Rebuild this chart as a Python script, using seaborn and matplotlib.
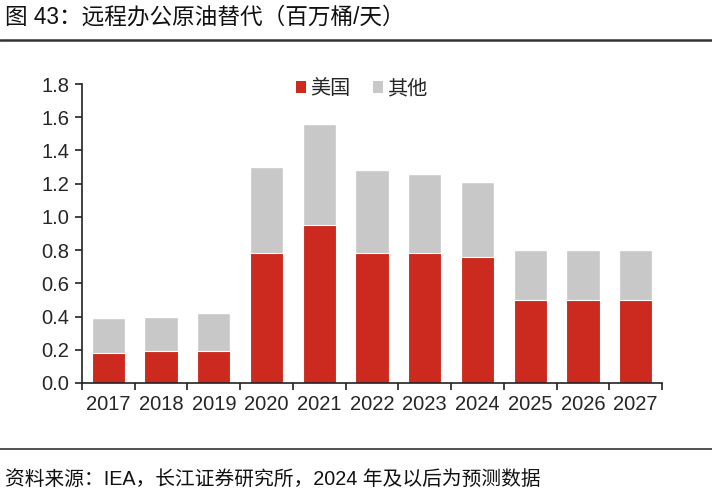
import matplotlib
matplotlib.use("Agg")
import matplotlib.pyplot as plt
from matplotlib.patches import Patch
from matplotlib.lines import Line2D
from matplotlib.ticker import FixedLocator
import seaborn as sns
import pandas as pd

years = ["2017", "2018", "2019", "2020", "2021", "2022", "2023", "2024", "2025", "2026", "2027"]
us = [0.18, 0.19, 0.19, 0.78, 0.95, 0.78, 0.78, 0.76, 0.50, 0.50, 0.50]
other = [0.21, 0.21, 0.23, 0.52, 0.61, 0.50, 0.48, 0.45, 0.30, 0.30, 0.30]

title = "图 43：远程办公原油替代（百万桶/天）"
source = "资料来源：IEA，长江证券研究所，2024 年及以后为预测数据"

red = "#CC2A1F"
grey = "#C8C8C8"

sns.set_theme(style="white")
plt.rcParams['font.family'] = ['Liberation Sans', 'Noto Sans CJK SC', 'DejaVu Sans']

df = pd.DataFrame({"year": years, "us": us, "other": other})
df["total"] = df["us"] + df["other"]

fig = plt.figure(figsize=(7.12, 5.04), dpi=100)
ax = fig.add_axes([82 / 712, 121 / 504, 580 / 712, 299 / 504])

sns.barplot(data=df, x="year", y="total", color=grey, saturation=1, width=0.63, ax=ax)
sns.barplot(data=df, x="year", y="us", color=red, saturation=1, width=0.63,
            edgecolor="white", linewidth=0.8, ax=ax)

ax.set_xlim(-0.5, len(years) - 0.5)
ax.set_ylim(0, 1.8)
ax.set_yticks([0.0, 0.2, 0.4, 0.6, 0.8, 1.0, 1.2, 1.4, 1.6, 1.8])
ax.set_yticklabels([f"{v:.1f}" for v in ax.get_yticks()])
ax.set_xlabel("")
ax.set_ylabel("")

for s in ["top", "right"]:
    ax.spines[s].set_visible(False)
for s in ["left", "bottom"]:
    ax.spines[s].set_color("#222222")
    ax.spines[s].set_linewidth(1.2)

ax.tick_params(axis="y", which="major", direction="out", length=5, width=1.2,
               color="#222222", labelsize=14.5, pad=4, left=True)
ax.tick_params(axis="x", which="major", length=0, labelsize=14.5, pad=9)
ax.xaxis.set_minor_locator(FixedLocator([i - 0.5 for i in range(len(years) + 1)]))
ax.tick_params(axis="x", which="minor", direction="out", length=5, width=1.2,
               color="#222222", bottom=True)

handles = [Patch(facecolor=red, edgecolor="none", label="美国"),
           Patch(facecolor=grey, edgecolor="none", label="其他")]
ax.legend(handles=handles, loc="center", bbox_to_anchor=(0.482, 0.985), ncol=2,
          frameon=False, fontsize=14.5, handlelength=0.5, handleheight=0.5,
          handletextpad=0.2, columnspacing=1.1)

fig.text(5 / 712, 1 - 17 / 504, title, fontsize=16.3, va="center", ha="left", color="#111111")
fig.add_artist(Line2D([0, 1], [1 - 40 / 504, 1 - 40 / 504], color="#333333", linewidth=1.8))
fig.add_artist(Line2D([0, 1], [1 - 449 / 504, 1 - 449 / 504], color="#333333", linewidth=1.2))
fig.text(5 / 712, 1 - 479 / 504, source, fontsize=14.2, va="center", ha="left", color="#111111")

fig.savefig("out.png", dpi=100)
